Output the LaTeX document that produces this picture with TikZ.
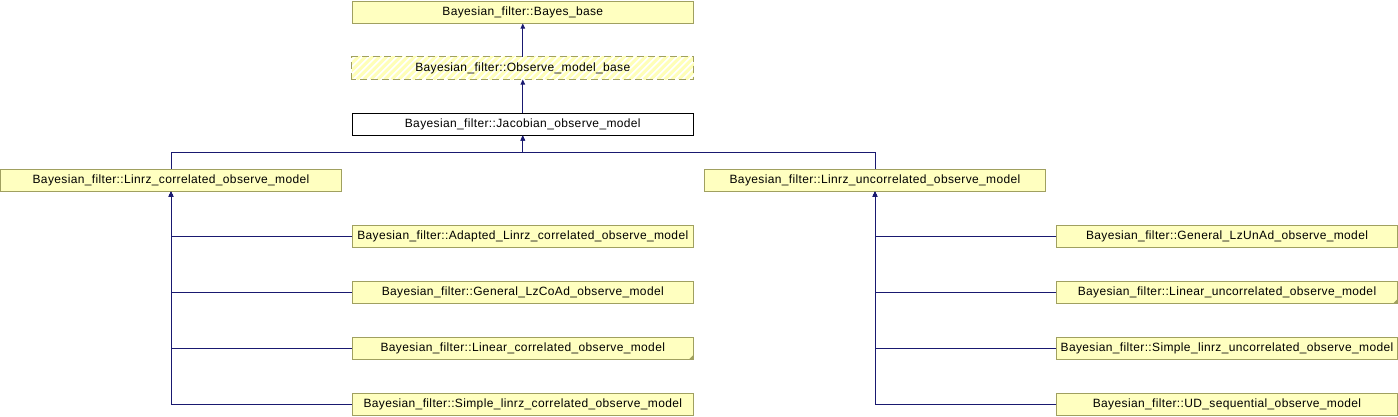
\documentclass[tikz,border=0pt]{standalone}
\usepackage{fontspec}
\setmainfont{Liberation Sans}[LetterSpace=3]
\usetikzlibrary{arrows.meta,calc}
\definecolor{boxfill}{HTML}{FFFFC0}
\definecolor{boxline}{HTML}{A0A060}
\definecolor{edgecol}{HTML}{191970}
\definecolor{hatchcol}{HTML}{FFFFB8}
\tikzset{
  cls/.style={draw=boxline, fill=boxfill, line width=1pt, minimum width=341pt, minimum height=22pt, inner sep=0pt, font=\fontsize{12}{14}\selectfont, anchor=center},
  plainbox/.style={cls, draw=black, fill=white},
  ghost/.style={cls, draw=none, fill=none},
  edge/.style={draw=edgecol, line width=1pt, -{Triangle[length=5pt,width=4.5pt]}},
}
\begin{document}
\begin{tikzpicture}[x=1pt,y=-1pt]
\useasboundingbox (0,0) rectangle (1398,416);
% top chain
\node[cls] (base) at (522.8,12) {Bayesian\_filter::Bayes\_base};
\node[ghost] (obs) at (522.8,68) {};
\begin{scope}
  \clip (obs.south west) rectangle (obs.north east);
  \foreach \i in {-30,-23,...,380} {
    \draw[hatchcol, line width=3pt] ($(obs.south west)+(\i,0)$) -- ++(30,-30);
  }
\end{scope}
\draw[boxline, line width=1pt, dash pattern=on 7pt off 4pt] (obs.south west) rectangle (obs.north east);
\node[ghost] at (obs.center) {Bayesian\_filter::Observe\_model\_base};
\node[plainbox] (jac) at (522.8,124) {Bayesian\_filter::Jacobian\_observe\_model};
% second level
\node[cls] (lc) at (171,180) {Bayesian\_filter::Linrz\_correlated\_observe\_model};
\node[cls] (lu) at (875,180) {Bayesian\_filter::Linrz\_uncorrelated\_observe\_model};
% left children
\node[cls] (l1) at (522.8,236) {Bayesian\_filter::Adapted\_Linrz\_correlated\_observe\_model};
\node[cls] (l2) at (522.8,292) {Bayesian\_filter::General\_LzCoAd\_observe\_model};
\node[cls] (l3) at (522.8,348) {Bayesian\_filter::Linear\_correlated\_observe\_model};
\node[cls] (l4) at (522.8,404) {Bayesian\_filter::Simple\_linrz\_correlated\_observe\_model};
% right children
\node[cls] (r1) at (1227,236) {Bayesian\_filter::General\_LzUnAd\_observe\_model};
\node[cls] (r2) at (1227,292) {Bayesian\_filter::Linear\_uncorrelated\_observe\_model};
\node[cls] (r3) at (1227,348) {Bayesian\_filter::Simple\_linrz\_uncorrelated\_observe\_model};
\node[cls] (r4) at (1227,404) {Bayesian\_filter::UD\_sequential\_observe\_model};
% folded corners
\foreach \n in {l3,r2} {
  \fill[boxline] (\n.south east) -- ++(0,-5) -- ++(-5,5) -- cycle;
}
% edges
\draw[edge] (obs.north) -- (base.south);
\draw[edge] (jac.north) -- (obs.south);
\coordinate (jb) at (522.8,152);
\draw[edge] (lc.north) |- (jb) -- (jac.south);
\draw[edge] (lu.north) |- (jb) -- (jac.south);
\foreach \c in {l1,l2,l3,l4} { \draw[edge] (\c.west) -| (lc.south); }
\foreach \c in {r1,r2,r3,r4} { \draw[edge] (\c.west) -| (lu.south); }
\end{tikzpicture}
\end{document}
